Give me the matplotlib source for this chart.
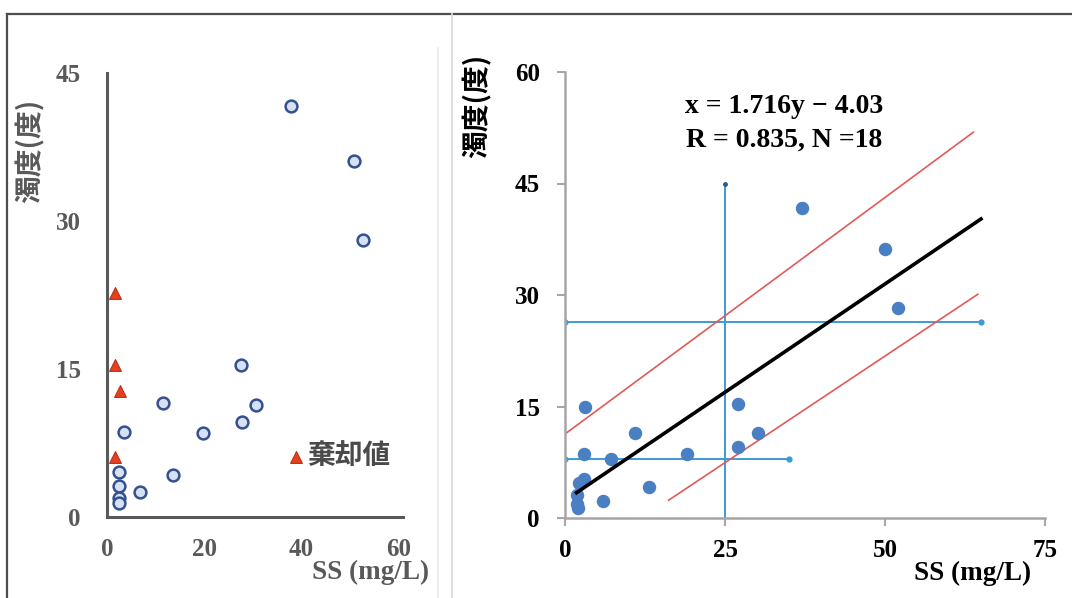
import numpy as np
import matplotlib
matplotlib.use("Agg")
import matplotlib.pyplot as plt
from matplotlib.lines import Line2D

# left panel: all samples (circles) and rejected values (triangles)
ss_ok = [37.9, 50.9, 52.8, 27.7, 11.5, 30.7, 3.6, 19.7, 27.8, 2.5, 13.5, 2.5, 6.7, 2.5, 2.5]
turb_ok = [41.7, 36.1, 28.1, 15.4, 11.6, 11.4, 8.6, 8.5, 9.6, 4.6, 4.3, 3.1, 2.5, 1.9, 1.4]
ss_rej = [1.6, 1.6, 2.7, 1.6]
turb_rej = [22.7, 15.4, 12.8, 6.1]
left_xticks = [0, 20, 40, 60]
left_yticks = [0, 15, 30, 45]

# right panel: regression sample (N=18)
ss_reg = [37.1, 50.0, 52.1, 27.0, 3.1, 11.0, 30.1, 27.0, 3.0, 7.2, 19.1, 13.1, 3.0, 2.2, 1.9, 1.9, 2.1, 6.0]
turb_reg = [41.7, 36.2, 28.2, 15.4, 14.9, 11.5, 11.5, 9.6, 8.6, 7.9, 8.6, 4.2, 5.2, 4.7, 3.1, 1.9, 1.3, 2.3]
fit_a, fit_b = 1.716, -4.03          # x = a*y + b
fit_x = [1.8, 65.0]
upper_x, upper_y = [0.0, 63.8], [11.3, 51.9]
lower_x, lower_y = [16.2, 64.5], [2.4, 30.1]
vline_x, vline_y = [25, 25], [0, 45]
hline1_x, hline1_y = [0, 65], [26.4, 26.4]
hline2_x, hline2_y = [0, 35], [8.0, 8.0]
right_xticks = [0, 25, 50, 75]
right_yticks = [0, 15, 30, 45, 60]

W, H = 1072, 598
fig = plt.figure(figsize=(W / 100, H / 100), dpi=100)

num_font = dict(family="Liberation Serif", weight="bold")
cjk = ["Noto Sans CJK JP", "DejaVu Sans"]


def px_rect(x0, x1, ytop, ybot):
    return [x0 / W, 1 - ybot / H, (x1 - x0) / W, (ybot - ytop) / H]


# ---- left panel ----
gray = "#595959"
ax1 = fig.add_axes(px_rect(107, 403, 73, 517))
ax1.scatter(ss_ok, turb_ok, s=72, marker="o", facecolor="#d6e2f3",
            edgecolor="#34508f", linewidth=1.8, zorder=3, clip_on=False)
ax1.scatter(ss_rej, turb_rej, s=72, marker="^", facecolor="#e8401c",
            edgecolor="#b8301a", linewidth=0.8, zorder=4, clip_on=False,
            label="棄却値")
ax1.set_xlim(0, 61)
ax1.set_ylim(0, 45)
ax1.set_xticks(left_xticks)
ax1.set_yticks(left_yticks)
for s in ["top", "right"]:
    ax1.spines[s].set_visible(False)
for s in ["left", "bottom"]:
    ax1.spines[s].set_color(gray)
    ax1.spines[s].set_linewidth(2.2)
ax1.tick_params(axis="both", length=0, colors=gray, labelsize=18)
ax1.tick_params(axis="y", pad=19)
ax1.tick_params(axis="x", pad=15)
for lab in ax1.get_xticklabels() + ax1.get_yticklabels():
    lab.set_fontfamily(num_font["family"])
    lab.set_fontweight("bold")
ax1.set_ylabel("濁度(度)", family=cjk, fontsize=20, fontweight="bold", color=gray,
               va="center")
ax1.yaxis.set_label_coords(-0.26, 0.825)
fig.text(429 / W, 1 - 572 / H, "SS (mg/L)", ha="right", va="center",
         fontsize=19.5, color=gray, **num_font)
leg = ax1.legend(loc="center left", bbox_to_anchor=(0.607, 0.137), frameon=False,
                 handlelength=0.7, handletextpad=0.05, borderpad=0, borderaxespad=0,
                 prop=dict(family=cjk, size=20, weight="bold"))
for t in leg.get_texts():
    t.set_color("#4a4a4a")

# ---- right panel ----
rgray = "#a6a6a6"
blue = "#3d9bd4"
ax2 = fig.add_axes(px_rect(565, 1045, 72, 518))
ax2.plot(vline_x, vline_y, color=blue, lw=1.4, marker="o", ms=2.5,
         markevery=[1], mfc="#2d5a8a", mec="#2d5a8a", zorder=2)
ax2.plot(hline1_x, hline1_y, color=blue, lw=1.4, marker="o", ms=3.5, zorder=2)
ax2.plot(hline2_x, hline2_y, color=blue, lw=1.4, marker="o", ms=3.5, zorder=2)
ax2.plot(upper_x, upper_y, color="#e05a5a", lw=1.2, zorder=2)
ax2.plot(lower_x, lower_y, color="#e05a5a", lw=1.2, zorder=2)
fx = np.array(fit_x)
ax2.plot(fx, (fx - fit_b) / fit_a, color="black", lw=2.6, zorder=4)
ax2.scatter(ss_reg, turb_reg, s=75, color="#4a7fc4", zorder=3, clip_on=False)
ax2.set_xlim(0, 75)
ax2.set_ylim(0, 60)
ax2.set_xticks(right_xticks)
ax2.set_yticks(right_yticks)
for s in ["top", "right"]:
    ax2.spines[s].set_visible(False)
for s in ["left", "bottom"]:
    ax2.spines[s].set_color(rgray)
    ax2.spines[s].set_linewidth(1.8)
ax2.tick_params(axis="both", direction="out", length=6, width=1.5, color=rgray,
                labelcolor="black", labelsize=18)
ax2.tick_params(axis="y", pad=12)
ax2.tick_params(axis="x", pad=9)
for lab in ax2.get_xticklabels() + ax2.get_yticklabels():
    lab.set_fontfamily(num_font["family"])
    lab.set_fontweight("bold")
ax2.set_ylabel("濁度(度)", family=cjk, fontsize=20, fontweight="bold", color="black",
               va="center")
ax2.yaxis.set_label_coords(-0.183, 0.924)
fig.text(1031 / W, 1 - 573 / H, "SS (mg/L)", ha="right", va="center",
         fontsize=19.5, color="black", **num_font)
ax2.text(0.457, 0.885, "x = 1.716y − 4.03\nR = 0.835, N =18", transform=ax2.transAxes,
         ha="center", va="center", fontsize=20, linespacing=1.45, **num_font)

# frame lines around the figure panels
fig.add_artist(Line2D([7 / W, 1], [1 - 14 / H] * 2, color="#4d4d4d", lw=1.6))
fig.add_artist(Line2D([7 / W] * 2, [0, 1 - 14 / H], color="#4d4d4d", lw=1.6))
fig.add_artist(Line2D([452 / W] * 2, [0, 1 - 14 / H], color="#dcdcdc", lw=1.3))
fig.add_artist(Line2D([438 / W] * 2, [0, 1 - 48 / H], color="#ebebeb", lw=1.3))

fig.savefig("out.png", dpi=100, facecolor="white")
